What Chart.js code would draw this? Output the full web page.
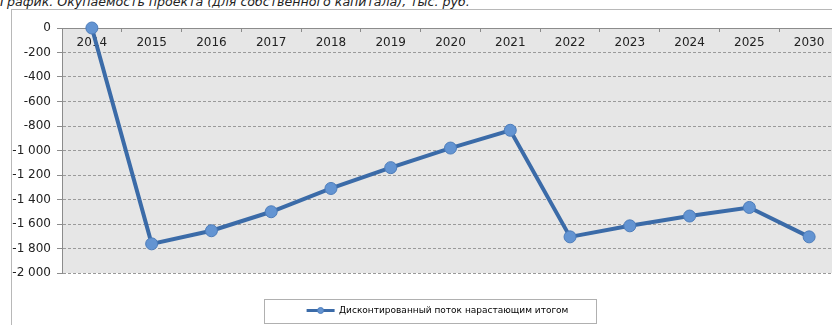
<!DOCTYPE html>
<html><head><meta charset="utf-8">
<script src="https://cdn.jsdelivr.net/npm/chart.js@4"></script>
<style>
html,body{margin:0;padding:0;background:#fff;overflow:hidden;width:832px;height:325px;position:relative;}
#frame{position:absolute;left:11px;top:9px;width:900px;height:400px;border-left:1px solid #b8b8b8;border-top:1px solid #b8b8b8;}
#title{position:absolute;left:0;top:-4px;font:italic 12.6px "DejaVu Sans",sans-serif;line-height:12px;color:#222;white-space:nowrap;}
#wrap{position:absolute;left:0;top:0;width:860px;height:325px;}
</style></head><body>
<div id="frame"></div>
<div id="title">График. Окупаемость проекта (для собственного капитала), тыс. руб.</div>
<div id="wrap"><canvas id="c" width="860" height="325"></canvas></div>
<script>
const categories = ['2014','2015','2016','2017','2018','2019','2020','2021','2022','2023','2024','2025','2030'];
const seriesName = 'Дисконтированный поток нарастающим итогом';
const seriesValues = [0,-1762,-1655,-1500,-1310,-1140,-980,-835,-1705,-1615,-1535,-1465,-1705];
const yTicks = [0,-200,-400,-600,-800,-1000,-1200,-1400,-1600,-1800,-2000];

const lineColor = '#3b6ba8';
function fmt(v){
  const s = Math.abs(v).toString().replace(/\B(?=(\d{3})+(?!\d))/g,' ');
  return (v<0?'-':'') + s;
}

const bgPlugin = {
  id:'plotBg',
  afterLayout(chart){
    if (chart.legend) { chart.legend.left += 18; chart.legend.right += 18; }
  },
  beforeDraw(chart){
    const {ctx, chartArea:a} = chart;
    ctx.save(); ctx.fillStyle='#e6e6e6';
    ctx.fillRect(a.left, a.top, a.right-a.left, a.bottom-a.top);
    ctx.restore();
  }
};
const legendDecor = {
  id:'legendDecor',
  afterDraw(chart){
    const hb = chart.legend && chart.legend.legendHitBoxes && chart.legend.legendHitBoxes[0];
    if(!hb) return;
    const ctx = chart.ctx;
    const cy = hb.top + hb.height/2;
    ctx.save();
    ctx.strokeStyle='#b0b0b0'; ctx.lineWidth=1;
    ctx.strokeRect(Math.round(hb.left-43)+0.5, Math.round(cy-12)+0.5, Math.round(hb.width+70), 24);
    ctx.beginPath(); ctx.arc(hb.left+14, cy, 3, 0, Math.PI*2);
    ctx.fillStyle='#6394d2'; ctx.fill(); ctx.strokeStyle='#4d7dbb'; ctx.stroke();
    ctx.restore();
  }
};

new Chart(document.getElementById('c'), {
  type:'line',
  data:{
    labels: categories,
    datasets:[{
      label: seriesName,
      data: seriesValues,
      borderColor: lineColor,
      borderWidth: 4,
      pointRadius: 6,
      pointBackgroundColor:'#6394d2',
      pointBorderColor:'#4d7dbb',
      pointBorderWidth:1,
      tension:0,
      clip:false
    }]
  },
  options:{
    responsive:false, animation:false, devicePixelRatio:1,
    layout:{padding:{top:28,left:0,right:21,bottom:0}},
    scales:{
      x:{
        type:'category', position:{y:0}, offset:true,
        afterFit(s){ s.height = 0; },
        grid:{display:true, drawOnChartArea:false, drawTicks:true, tickLength:3, color:'#8c8c8c', offset:true},
        border:{display:true, color:'#8c8c8c'},
        ticks:{font:{family:'DejaVu Sans', size:12}, color:'#222', padding:5, maxRotation:0, autoSkip:false}
      },
      y:{
        min:-2000, max:0, position:'left',
        afterBuildTicks(s){ s.ticks = yTicks.map(v=>({value:v})); },
        afterFit(s){ s.width = 62; },
        grid:{color:(c)=> (c.tick && c.tick.value===0) ? 'rgba(0,0,0,0)' : '#9a9a9a', tickLength:5, tickColor:'#8c8c8c', tickBorderDash:[]},
        border:{display:true, color:'#8c8c8c', dash:[3,2]},
        ticks:{font:{family:'DejaVu Sans', size:12}, color:'#222', padding:6, callback:(v)=>fmt(v)}
      }
    },
    plugins:{
      title:{display:false},
      tooltip:{enabled:false},
      legend:{
        position:'bottom',
        labels:{
          font:{family:'DejaVu Sans', size:9}, color:'#333', boxWidth:28, boxHeight:3, padding:33,
          generateLabels(){ return [{text:seriesName, fillStyle:lineColor, strokeStyle:lineColor, lineWidth:0, datasetIndex:0, hidden:false}]; }
        }
      }
    }
  },
  plugins:[bgPlugin, legendDecor]
});
</script>
</body></html>
